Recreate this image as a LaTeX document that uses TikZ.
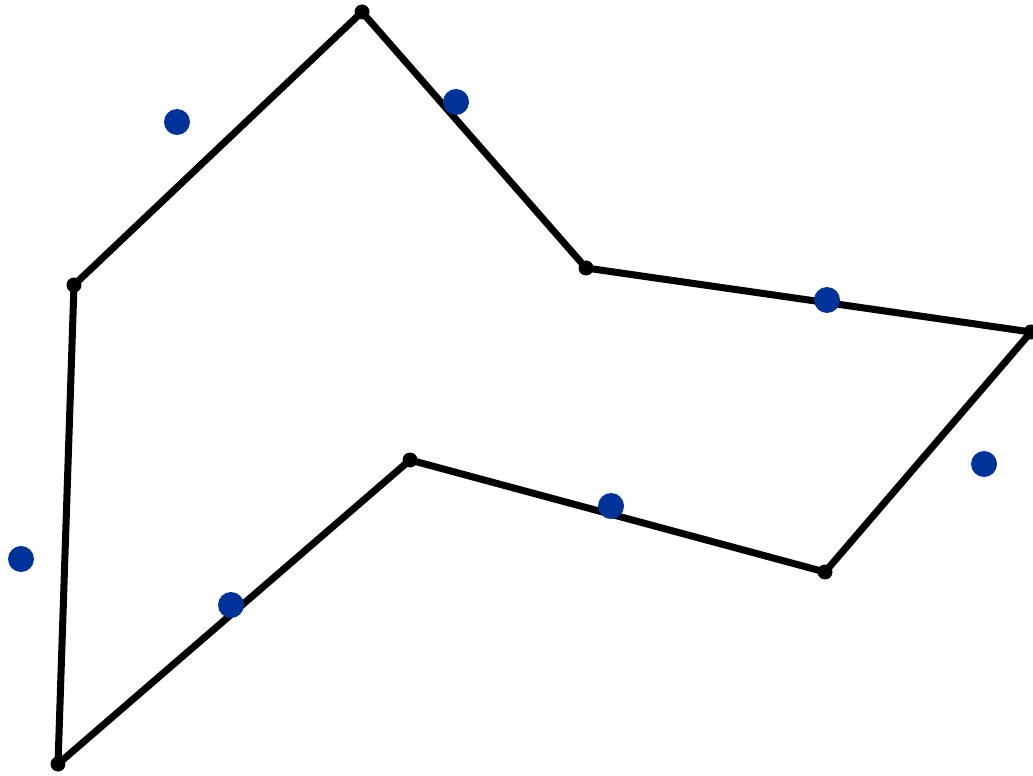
\documentclass[tikz,border=0pt]{standalone}
\definecolor{dotblue}{RGB}{0,51,153}
\begin{document}
\begin{tikzpicture}[x=0.02cm,y=-0.02cm,
    vertex/.style={circle,fill=black,inner sep=0pt,minimum size=0.3cm},
    spot/.style={circle,fill=dotblue,inner sep=0pt,minimum size=0.52cm}]

        \useasboundingbox (0,0) rectangle (1033,776);

        % polygon corners
        \node[vertex] (A) at (362,12)   {};
        \node[vertex] (B) at (586,268)  {};
        \node[vertex] (C) at (1031,332) {};
        \node[vertex] (D) at (825,572)  {};
        \node[vertex] (E) at (410,460)  {};
        \node[vertex] (F) at (58,764)   {};
        \node[vertex] (G) at (74,285)   {};

        \draw[line width=4pt,line join=round]
            (A.center) -- (B.center) -- (C.center) -- (D.center)
            -- (E.center) -- (F.center) -- (G.center) -- cycle;

        % blue points
        \node[spot] (p1) at (177,122) {};
        \node[spot] (p2) at (456,102) {};
        \node[spot] (p3) at (827,300) {};
        \node[spot] (p4) at (984,464) {};
        \node[spot] (p5) at (611,506) {};
        \node[spot] (p6) at (231,605) {};
        \node[spot] (p7) at (21,559)  {};

        \end{tikzpicture}
\end{document}
